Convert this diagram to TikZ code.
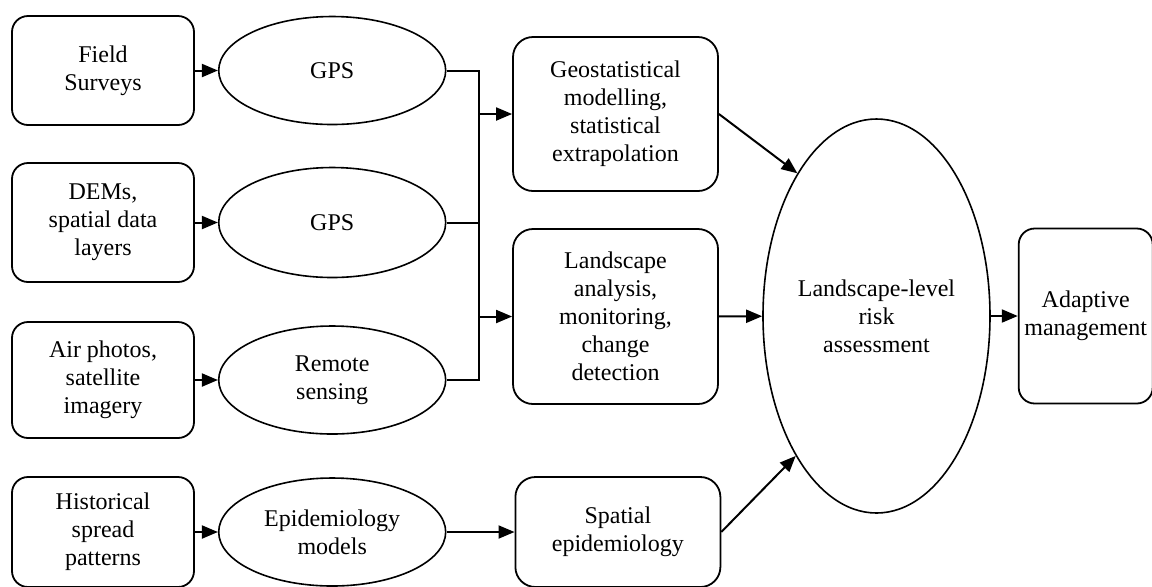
\documentclass[tikz,border=0pt]{standalone}
\usepackage{fontspec}
\setmainfont{Liberation Serif}
\usepackage{xcolor}
\usepackage{tikz}
\usetikzlibrary{arrows.meta,positioning,shapes.geometric}
\definecolor{ink}{HTML}{000000}
\tikzset{
  box/.style  ={rounded corners=8pt,draw=ink,line width=0.9pt,fill=white,
                inner sep=2pt,align=center,minimum width=91pt},
  oval/.style ={ellipse,draw=ink,line width=0.8pt,fill=white,inner sep=0pt,
                align=center,minimum width=113.5pt,minimum height=54pt},
  flow/.style ={-{Triangle[length=8pt,width=6.5pt]},line width=1pt,draw=ink},
  link/.style ={line width=1pt,draw=ink}
}

\begin{document}
\begin{tikzpicture}[x=0.5pt,y=-0.5pt,font=\fontsize{12}{14}\selectfont,
                    node distance=11.5pt]
  \useasboundingbox (0,0) rectangle (1152,586);
  \node[box,minimum height=54.5pt] (field) at (103,70.5) {Field\\Surveys};
  \node[box,minimum height=59.5pt] (dem) at (103,222.5) {DEMs,\\spatial data\\layers};
  \node[box,minimum height=58pt] (air) at (103,380) {Air photos,\\satellite\\imagery};
  \node[box,minimum height=55pt] (hist) at (103,532) {Historical\\spread\\patterns};
  \node[oval,right=of field] (gps1) {GPS};
  \node[oval,right=of dem,minimum height=55pt] (gps2) {GPS};
  \node[oval,right=of air] (rs) {Remote\\sensing};
  \node[oval,right=of hist] (epi) {Epidemiology\\models};
  \node[box,minimum width=102.5pt,minimum height=77pt,rounded corners=10pt] (geo)
    at (615.5,114) {Geostatistical\\modelling,\\statistical\\extrapolation};
  \node[box,minimum width=102.5pt,minimum height=87.5pt,rounded corners=10pt] (land)
    at (615.5,316.5) {Landscape\\analysis,\\monitoring,\\change\\detection};
  \node[box,minimum width=102.5pt,minimum height=55pt,rounded corners=10pt,
        right=34pt of epi] (spat) {Spatial\\epidemiology};
  \node[oval,minimum height=197pt] (risk) at (876.5,316)
    {Landscape-level\\risk\\assessment};
  \node[box,minimum width=67pt,minimum height=87.5pt,inner sep=1pt,
        right=13.5pt of risk] (adapt) {Adaptive\\management};
  \coordinate (bus) at (479,0);
  \draw[flow] (field) -- (gps1);
  \draw[flow] (dem) -- (gps2);
  \draw[flow] (air) -- (rs);
  \draw[flow] (hist) -- (epi);
  \draw[link] (gps1.east) -- (gps1.east -| bus) -- (rs.east -| bus) -- (rs.east);
  \draw[link] (gps2.east) -- (gps2.east -| bus);
  \draw[flow] (geo.west -| bus) -- (geo.west);
  \draw[flow] (land.west -| bus) -- (land.west);
  \draw[flow] (epi) -- (spat);
  \draw[flow] (geo.east) -- (risk.119);
  \draw[flow] (land) -- (risk);
  \draw[flow] (spat.east) -- (risk.240);
  \draw[flow] (risk) -- (adapt);
\end{tikzpicture}
\end{document}
